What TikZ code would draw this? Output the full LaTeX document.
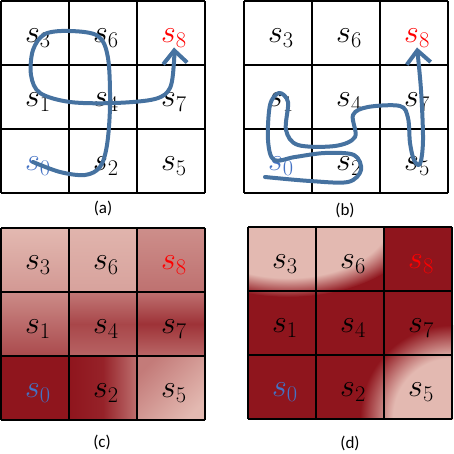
\RequirePackage{fix-cm}
\documentclass[tikz,border=0pt]{standalone}
\usepackage{fontspec}
\newfontfamily\capfont{Carlito}
\usetikzlibrary{arrows.meta}

\definecolor{heatdark}{RGB}{143,21,29}
\definecolor{heatlight}{RGB}{227,185,177}
\definecolor{pathblue}{RGB}{70,114,160}
\definecolor{startblue}{RGB}{68,114,196}
\pgfdeclareradialshading{glow}{\pgfpoint{0bp}{0bp}}{color(0bp)=(heatlight); color(16bp)=(heatlight); color(25bp)=(heatdark); color(50bp)=(heatdark)}
\pgfdeclareradialshading{glowsharp}{\pgfpoint{0bp}{0bp}}{color(0bp)=(heatlight); color(19bp)=(heatlight); color(25bp)=(heatdark); color(50bp)=(heatdark)}

\begin{document}
\begin{tikzpicture}[x=1pt,y=-1pt,
	gridline/.style={line width=1.7pt},
	state/.style={inner sep=0pt, font=\fontsize{32}{34}\selectfont},
	track/.style={draw=pathblue, line width=4pt, line cap=round, line join=round,
		-{Straight Barb[length=13pt,width=24pt]}},
	caption/.style={font=\capfont\fontsize{17}{19}\selectfont}]
	\useasboundingbox (0,0) rectangle (454,454);

	% heat maps first, lines and labels on top
	\begin{scope}[shift={(1,228)}]
		\shade[top color=heatlight, bottom color=heatlight!80!heatdark] (0,0) rectangle (68,64);
		\shade[top color=heatlight!97!heatdark, bottom color=heatlight!86!heatdark] (68,0) rectangle (136,64);
		\shade[top color=heatlight!74!heatdark, bottom color=heatlight!56!heatdark] (136,0) rectangle (204,64);
		\shade[top color=heatlight!72!heatdark, bottom color=heatlight!32!heatdark] (0,64) rectangle (68,128);
		\shade[top color=heatlight!60!heatdark, bottom color=heatlight!48!heatdark, middle color=heatlight!30!heatdark] (68,64) rectangle (136,128);
		\shade[top color=heatlight!56!heatdark, bottom color=heatlight!50!heatdark, middle color=heatlight!18!heatdark] (136,64) rectangle (204,128);
		\fill[heatdark] (0,128) rectangle (68,192);
		\shade[left color=heatdark, right color=heatlight!55!heatdark, middle color=heatdark!92!heatlight] (68,128) rectangle (136,192);
		\shade[top color=heatlight!62!heatdark, bottom color=heatlight, shading angle=45] (136,128) rectangle (204,192);
	\end{scope}
	\begin{scope}[shift={(248,227)}]
		\clip (0,0) rectangle (205,192);
		\fill[heatdark] (0,0) rectangle (205,192);
		\shade[shading=glow] (204,190) circle [radius=92];
		\clip (0,0) rectangle (136,192);
		\shade[shading=glowsharp] (40,-10) ellipse [x radius=135, y radius=80];
	\end{scope}

	% the four grids
	\foreach \p/\x/\y in {a/1/1, b/244/1, c/1/228, d/248/227} {
		\begin{scope}[shift={(\x,\y)}]
			\foreach \i in {0,...,3} {
				\draw[gridline] (\i*68,0) -- (\i*68,192);
				\draw[gridline] (0,\i*64) -- (204,\i*64);
			}
			\foreach \s/\c/\r/\col in {3/0/0/black, 6/1/0/black, 8/2/0/red,
				1/0/1/black, 4/1/1/black, 7/2/1/black,
				0/0/2/startblue, 2/1/2/black, 5/2/2/black}
				\node[state, text=\col] (\p\s) at (\c*68+37,\r*64+37) {$s_{\s}$};
		\end{scope}
	}

	\node[caption] (capa) at (103,208) {(a)};
	\node[caption] (capb) at (345,210) {(b)};
	\node[caption] (capc) at (102,442) {(c)};
	\node[caption] (capd) at (350,443) {(d)};

	% trajectories
	\draw[track] plot[smooth, tension=0.55] coordinates {(33,162) (60,172) (85,175) (100,167)
		(107,145) (110,105) (108,58) (98,36) (70,31) (45,34) (33,50) (31,75) (40,93)
		(70,102) (115,103) (155,99) (170,88) (174,62) (a8.south)};
	\draw[track] plot[smooth, tension=0.55] coordinates {(265,177) (310,181) (348,182)
		(361,170) (354,155) (325,153) (295,157) (274,160) (268,140) (270,105) (279,93)
		(288,102) (286,130) (298,145) (335,146) (355,137) (353,115) (368,107) (400,106)
		(408,118) (410,143) (414,160) (420,164) (423,140) (421,90) (b8.south)};
\end{tikzpicture}
\end{document}
